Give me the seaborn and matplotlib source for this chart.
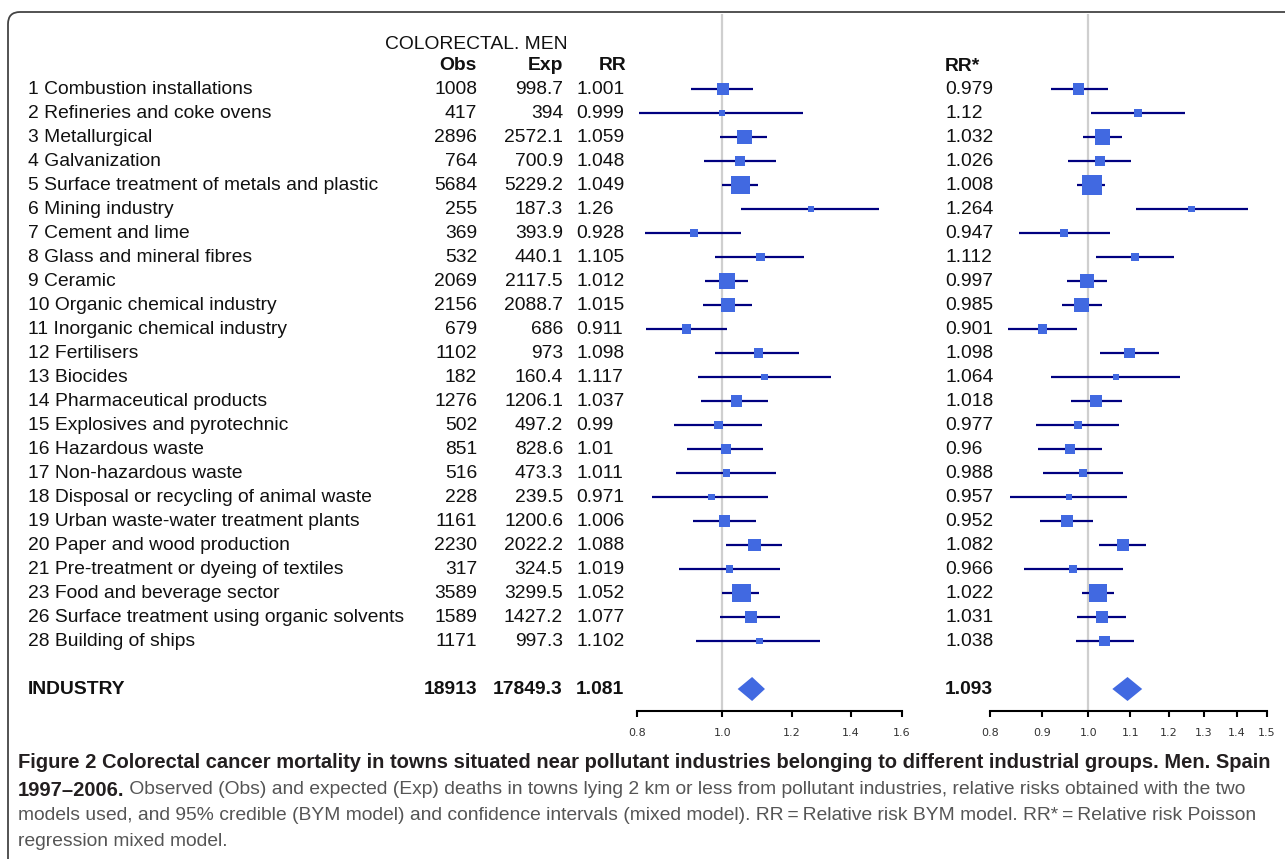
import numpy as np
import pandas as pd
import matplotlib
matplotlib.use("Agg")
import matplotlib.pyplot as plt
import matplotlib.transforms as mtransforms
from matplotlib.patches import FancyBboxPatch
from matplotlib.ticker import NullLocator
import seaborn as sns

# ---- data ----
groups = ["1 Combustion installations", "2 Refineries and coke ovens", "3 Metallurgical",
          "4 Galvanization", "5 Surface treatment of metals and plastic", "6 Mining industry",
          "7 Cement and lime", "8 Glass and mineral fibres", "9 Ceramic",
          "10 Organic chemical industry", "11 Inorganic chemical industry", "12 Fertilisers",
          "13 Biocides", "14 Pharmaceutical products", "15 Explosives and pyrotechnic",
          "16 Hazardous waste", "17 Non-hazardous waste", "18 Disposal or recycling of animal waste",
          "19 Urban waste-water treatment plants", "20 Paper and wood production",
          "21 Pre-treatment or dyeing of textiles", "23 Food and beverage sector",
          "26 Surface treatment using organic solvents", "28 Building of ships"]
obs = [1008, 417, 2896, 764, 5684, 255, 369, 532, 2069, 2156, 679, 1102,
       182, 1276, 502, 851, 516, 228, 1161, 2230, 317, 3589, 1589, 1171]
exp_ = [998.7, 394, 2572.1, 700.9, 5229.2, 187.3, 393.9, 440.1, 2117.5, 2088.7, 686, 973,
        160.4, 1206.1, 497.2, 828.6, 473.3, 239.5, 1200.6, 2022.2, 324.5, 3299.5, 1427.2, 997.3]
rr = [1.001, 0.999, 1.059, 1.048, 1.049, 1.26, 0.928, 1.105, 1.012, 1.015, 0.911, 1.098,
      1.117, 1.037, 0.99, 1.01, 1.011, 0.971, 1.006, 1.088, 1.019, 1.052, 1.077, 1.102]
rr_lo = [0.921, 0.805, 0.993, 0.952, 0.998, 1.049, 0.816, 0.980, 0.955, 0.950, 0.819, 0.980,
         0.938, 0.947, 0.881, 0.911, 0.885, 0.831, 0.925, 1.011, 0.892, 0.998, 0.993, 0.933]
rr_hi = [1.083, 1.235, 1.124, 1.150, 1.098, 1.505, 1.050, 1.238, 1.069, 1.081, 1.012, 1.222,
         1.328, 1.128, 1.109, 1.112, 1.150, 1.127, 1.092, 1.169, 1.163, 1.101, 1.163, 1.291]
rrs = [0.979, 1.12, 1.032, 1.026, 1.008, 1.264, 0.947, 1.112, 0.997, 0.985, 0.901, 1.098,
       1.064, 1.018, 0.977, 0.96, 0.988, 0.957, 0.952, 1.082, 0.966, 1.022, 1.031, 1.038]
rrs_lo = [0.918, 1.005, 0.989, 0.954, 0.975, 1.113, 0.855, 1.018, 0.952, 0.941, 0.834, 1.028,
          0.918, 0.961, 0.889, 0.893, 0.903, 0.838, 0.897, 1.024, 0.865, 0.985, 0.974, 0.972]
rrs_hi = [1.046, 1.246, 1.080, 1.102, 1.039, 1.438, 1.051, 1.215, 1.043, 1.032, 0.975, 1.174,
          1.232, 1.080, 1.072, 1.032, 1.082, 1.092, 1.011, 1.140, 1.082, 1.060, 1.089, 1.110]
total_label = "INDUSTRY"
total_obs, total_exp = 18913, 17849.3
total_rr, total_rr_lo, total_rr_hi = 1.081, 1.041, 1.118
total_rrs, total_rrs_lo, total_rrs_hi = 1.093, 1.056, 1.130
left_ticks = [0.8, 1.0, 1.2, 1.4, 1.6]
right_ticks = [0.8, 0.9, 1.0, 1.1, 1.2, 1.3, 1.4, 1.5]

caption_bold = ("Figure 2 Colorectal cancer mortality in towns situated near pollutant industries "
                "belonging to different industrial groups. Men. Spain")
caption_year = "1997\u20132006."
caption_rest = [" Observed (Obs) and expected (Exp) deaths in towns lying 2 km or less from "
                "pollutant industries, relative risks obtained with the two",
                "models used, and 95% credible (BYM model) and confidence intervals (mixed model). "
                "RR\u2009=\u2009Relative risk BYM model. RR*\u2009=\u2009Relative risk Poisson",
                "regression mixed model."]

df = pd.DataFrame({"group": groups, "obs": obs, "exp": exp_,
                   "rr": rr, "lo": rr_lo, "hi": rr_hi,
                   "rrs": rrs, "slo": rrs_lo, "shi": rrs_hi})
df["row"] = np.arange(len(df))
total_row = len(df) + 1

W, H, DPI = 1285, 859, 100
sns.set_theme(style="white")
plt.rcParams["font.family"] = ["Liberation Sans", "DejaVu Sans"]

fig = plt.figure(figsize=(W / DPI, H / DPI), dpi=DPI)

# rounded frame around the figure
fig.patches.append(FancyBboxPatch((8 / DPI, -0.5), 14, (H - 12) / DPI + 0.5,
                                  boxstyle="round,pad=0,rounding_size=0.12",
                                  transform=fig.dpi_scale_trans, fill=False,
                                  edgecolor="#444444", linewidth=1.3))

top_px, bot_px, row0_px, step_px = 14, 711, 89, 24.0
ylim = ((bot_px - row0_px) / step_px, -(row0_px - top_px) / step_px)


def fx(px):
    return px / W


def make_axes(x0, x1):
    return fig.add_axes([fx(x0), 1 - bot_px / H, fx(x1 - x0), (bot_px - top_px) / H])


axL = make_axes(637, 902)
axR = make_axes(990, 1267)


def forest(ax, est, lo, hi, tot, tot_lo, tot_hi, xlim, ticks, a, b):
    ax.set_xscale("log")
    ax.axvline(1.0, color="#cfcfcf", lw=1.6, zorder=0)
    ax.hlines(df["row"], df[lo], df[hi], color="#000080", lw=1.6, zorder=2)
    d = df.copy()
    # box side grows with precision (narrower interval -> bigger box)
    side_px = a + b / np.log(d[hi] / d[lo])
    d["area"] = (side_px * 72 / DPI) ** 2
    sns.scatterplot(data=d, x=est, y="row", size="area",
                    sizes=(d["area"].min(), d["area"].max()),
                    marker="s", color="#4169E1", linewidth=0, legend=False,
                    ax=ax, zorder=3)
    hh = 0.5
    ax.fill([tot_lo, tot, tot_hi, tot], [total_row, total_row - hh, total_row, total_row + hh],
            color="#4169E1", lw=0, zorder=3)
    ax.set_xlim(*xlim)
    ax.set_ylim(*ylim)
    ax.set_xticks(ticks, [f"{t:.1f}" for t in ticks])
    ax.xaxis.set_minor_locator(NullLocator())
    ax.set_yticks([])
    ax.set_xlabel("")
    ax.set_ylabel("")
    for s in ["left", "right", "top"]:
        ax.spines[s].set_visible(False)
    ax.spines["bottom"].set_color("black")
    ax.spines["bottom"].set_linewidth(1.5)
    ax.tick_params(axis="x", direction="out", length=4.5, width=1.5, color="black",
                   labelsize=8, labelcolor="#333333", pad=8, bottom=True)
    for lab in ax.get_xticklabels():
        lab.set_fontfamily("DejaVu Sans")
    ax.patch.set_alpha(0)


forest(axL, "rr", "lo", "hi", total_rr, total_rr_lo, total_rr_hi, (0.8, 1.6), left_ticks, 1.4, 1.68)
forest(axR, "rrs", "slo", "shi", total_rrs, total_rrs_lo, total_rrs_hi, (0.8, 1.5), right_ticks, 2.5, 1.11)

# ---- table text ----
tr = mtransforms.blended_transform_factory(fig.transFigure, axL.transData)
fs = 13.9
txt = dict(transform=tr, fontsize=fs, color="#111111", va="center")


def g(v):
    return f"{v:g}"


for _, r in df.iterrows():
    y = r["row"]
    fig.text(fx(28), y, r["group"], ha="left", **txt)
    fig.text(fx(477), y, f"{int(r['obs'])}", ha="right", **txt)
    fig.text(fx(563), y, g(r["exp"]), ha="right", **txt)
    fig.text(fx(576), y, g(r["rr"]), ha="left", **txt)
    fig.text(fx(945), y, g(r["rrs"]), ha="left", **txt)

fig.text(fx(385), -1.85, "COLORECTAL. MEN", ha="left", **txt)
fig.text(fx(477), -0.97, "Obs", ha="right", fontweight="bold", **txt)
fig.text(fx(563), -0.97, "Exp", ha="right", fontweight="bold", **txt)
fig.text(fx(627), -0.97, "RR", ha="right", fontweight="bold", **txt)
fig.text(fx(945), -0.92, "RR*", ha="left", fontweight="bold", **txt)

fig.text(fx(28), total_row, total_label, ha="left", fontweight="bold", **txt)
fig.text(fx(477), total_row, f"{total_obs}", ha="right", fontweight="bold", **txt)
fig.text(fx(563), total_row, g(total_exp), ha="right", fontweight="bold", **txt)
fig.text(fx(576), total_row, g(total_rr), ha="left", fontweight="bold", **txt)
fig.text(fx(945), total_row, g(total_rrs), ha="left", fontweight="bold", **txt)


# ---- caption: bold and regular sizes fitted to the original line widths ----
cap = dict(family=["Liberation Sans", "DejaVu Sans"], va="center", ha="left")


def fitted_size(s, width_px, **kw):
    t = fig.text(0, 0, s, fontsize=12, **cap, **kw)
    fig.canvas.draw()
    size = 12 * width_px / t.get_window_extent().width
    t.remove()
    return size


bfs = fitted_size(caption_bold, 1246, fontweight="bold")
rfs = 0.5 * (fitted_size(caption_rest[0], 1266 - 125) + fitted_size(caption_rest[1], 1240 - 18))

fig.text(fx(18), 1 - 763 / H, caption_bold, fontsize=bfs, fontweight="bold", color="#231f20", **cap)
b2 = fig.text(fx(18), 1 - 790 / H, caption_year, fontsize=bfs, fontweight="bold",
              color="#231f20", **cap)
fig.canvas.draw()
fig.text(b2.get_window_extent().x1 / W, 1 - 790 / H, caption_rest[0], fontsize=rfs,
         color="#555555", **cap)
fig.text(fx(18), 1 - 816 / H, caption_rest[1], fontsize=rfs, color="#555555", **cap)
fig.text(fx(18), 1 - 842 / H, caption_rest[2], fontsize=rfs, color="#555555", **cap)

fig.savefig("out.png", dpi=DPI, facecolor="white")
